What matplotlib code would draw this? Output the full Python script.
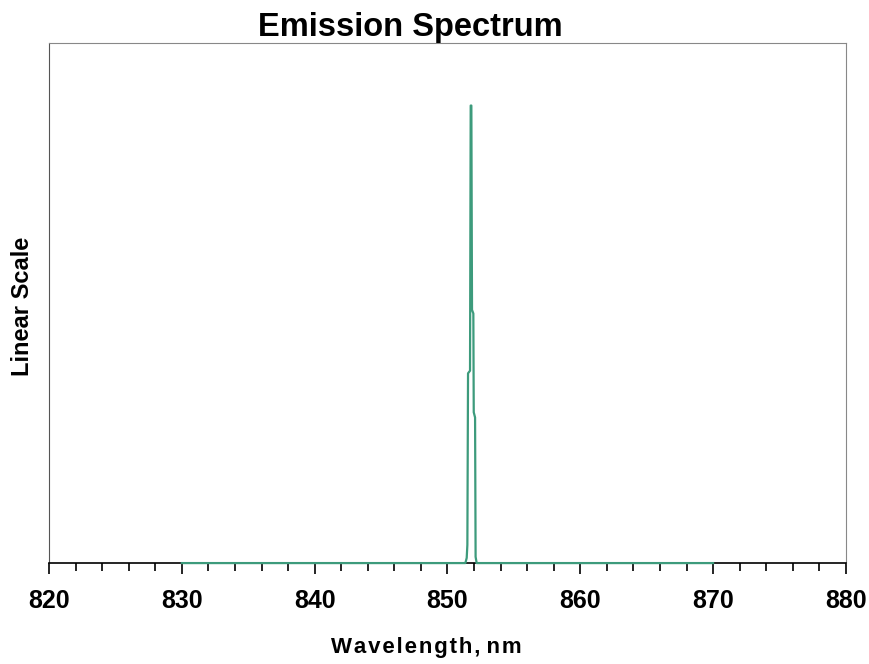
import matplotlib
matplotlib.use('Agg')
import matplotlib.pyplot as plt
from matplotlib.ticker import MultipleLocator

plt.rcParams['font.family'] = ['Liberation Sans', 'DejaVu Sans']

# Spectrum (normalised intensity)
wavelength = [830.0, 851.35, 851.45, 851.5, 851.55, 851.7, 851.75, 851.8,
              851.85, 851.95, 851.98, 852.08, 852.12, 852.2, 870.0]
intensity = [0.0, 0.0, 0.01, 0.035, 0.365, 0.37, 0.88, 0.88,
             0.487, 0.48, 0.29, 0.28, 0.012, 0.0, 0.0]

x_ticks = [820, 830, 840, 850, 860, 870, 880]

fig = plt.figure(figsize=(8.69, 6.64), dpi=100)
ax = fig.add_axes([0.0564, 0.152, 0.917, 0.783])

ax.plot(wavelength, intensity, color='#3d9b7c', lw=1.6, zorder=5, clip_on=False)

ax.set_xlim(820, 880)
ax.set_ylim(0, 1)
ax.set_xticks(x_ticks)
ax.xaxis.set_minor_locator(MultipleLocator(2))
ax.set_yticks([])
ax.tick_params(axis='x', which='major', direction='out', length=8, width=1.2,
               labelsize=18, pad=11)
ax.tick_params(axis='x', which='minor', direction='out', length=6, width=1.2)
for lbl in ax.get_xticklabels():
    lbl.set_fontweight('bold')

ax.spines['bottom'].set_color('black')
ax.spines['bottom'].set_linewidth(1.2)
ax.spines['left'].set_color('#555555')
ax.spines['top'].set_color('#888888')
ax.spines['right'].set_color('#888888')

ax.set_title('Emission Spectrum', fontsize=23.5, fontweight='bold', pad=-1, x=0.454)
hs = '\u200a'
ax.set_xlabel(hs.join('Wavelength,') + ' ' + hs.join('nm'), fontsize=16, fontweight='bold')
ax.xaxis.set_label_coords(0.473, -0.142)
ax.set_ylabel('Linear Scale', fontsize=17, fontweight='bold')
ax.yaxis.set_label_coords(-0.019, 0.494)

fig.savefig('out.png', dpi=100)
